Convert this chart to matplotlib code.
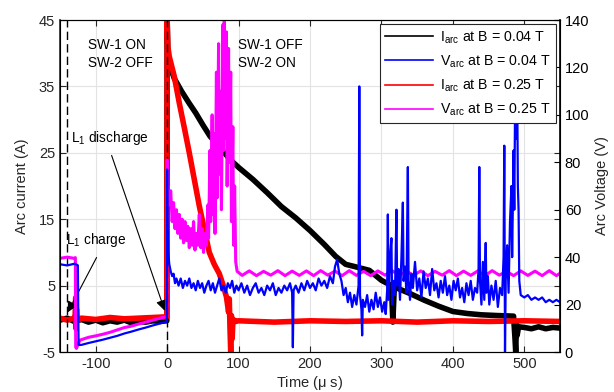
import matplotlib
matplotlib.use("Agg")
import matplotlib.pyplot as plt
from matplotlib.lines import Line2D

plt.rcParams['font.family'] = ['Liberation Sans', 'DejaVu Sans']
plt.rcParams['mathtext.default'] = 'regular'
plt.rcParams['axes.unicode_minus'] = False

# ---- data ----
# I_arc, B = 0.04 T (left axis, A)
t_i004 = [-150, -140, -130, -120, -110, -100, -90, -80, -70, -60, -50, -40, -30, -20, -10, -0.5,
          0, 1, 3, 10, 20, 30, 40, 50, 60, 70, 80, 90, 100, 110, 120, 140, 160, 180, 200, 220,
          236, 250, 265, 283, 300, 314, 316, 318, 340, 360, 380, 400, 420, 440, 460, 485,
          487, 488, 489, 490, 492, 500, 510, 520, 530, 540, 550]
i_004 = [-0.2, 0.1, -0.4, -0.1, -0.5, -0.2, -0.6, -0.3, -0.5, -0.2, -0.6, -0.4, -0.5, -0.3, -0.4, -0.3,
         45, 40, 38.3, 36.2, 34.3, 32.6, 31, 29.2, 27.5, 26.3, 25, 23.8, 22.8, 21.9, 21, 19, 16.9, 15.2, 13.3, 11.2,
         9.4, 8.2, 7.8, 7.3, 5.8, 5.0, -0.5, 4.8, 3.8, 2.8, 1.9, 1.1, 0.8, 0.6, 0.5, 0.4,
         -3, -5, -0.8, -2.5, -1.2, -1.3, -1.5, -1.2, -1.5, -1.3, -1.4]

# I_arc, B = 0.25 T (left axis, A)
t_i025 = [-150, -140, -130, -129, -128, -127.5, -127, -126, -120, -100, -80, -60, -40, -20, -0.5,
          0, 1, 3, 10, 17, 24, 31, 38, 45, 52, 59, 66, 73, 78, 83, 86, 87, 88, 89, 90, 91, 92, 94,
          96, 100, 150, 200, 250, 300, 350, 400, 450, 500, 550]
i_025 = [0.1, -0.2, 0.1, 0.0, 3.2, -1.5, 1.5, -0.3, 0.1, -0.1, 0.2, 0.0, 0.1, 0.2, 0.3,
         45, 41, 39.5, 36.5, 32.5, 28.8, 25, 21, 17, 13.5, 10, 8.2, 6.8, 5.2, 3.3, 1.0, 3.0, -1.5, -5, 0.5, -3, -0.5, -0.2,
         -0.4, -0.3, -0.5, -0.3, -0.4, -0.3, -0.5, -0.3, -0.4, -0.3, -0.4]

# V_arc, B = 0.04 T (right axis, V)
t_v004 = [-150, -140, -130, -126, -125, -124, -120, -110, -100, -90, -80, -70, -60, -50, -40, -30, -20, -10, -0.5,
          0, 0.5, 1.5, 3, 5, 7, 9, 11, 13, 16, 19, 22, 25, 28, 31, 34, 37, 40, 43, 46, 49, 52, 55, 58,
          61, 64, 67, 70, 73, 76, 79, 82, 85, 88, 91, 94, 97, 100, 104, 108, 112, 116, 120, 124, 128,
          132, 136, 140, 144, 148, 152, 156, 160, 164, 168, 172, 175, 176, 177, 180, 184, 188, 192, 196,
          200, 204, 208, 212, 216, 220, 224, 228, 232, 235, 238, 241, 244, 247, 250, 253, 256, 259, 262,
          265, 268, 269, 270, 272, 273, 274, 277, 280, 283, 286, 289, 292, 295, 298, 301, 304, 306, 308,
          309, 310, 312, 314, 315, 317, 319, 321, 322, 324, 326, 328, 330, 331, 333, 335, 337, 338, 340,
          342, 344, 347, 350, 353, 356, 359, 362, 365, 368, 371, 374, 377, 380, 383, 386, 389, 392, 395,
          398, 401, 404, 407, 410, 413, 416, 419, 422, 425, 428, 431, 434, 436, 437, 438, 440, 442, 444,
          446, 447, 449, 451, 454, 457, 460, 463, 466, 469, 471, 472, 473, 474, 476, 478, 480, 482, 483,
          485, 486, 487, 488, 489, 490, 491, 492, 493, 495, 500, 505, 510, 515, 520, 525, 530, 535, 540,
          545, 550]
v_004 = [37, 36.5, 37.2, 36.8, 36.5, 3, 3, 3.8, 4.5, 5.2, 6, 6.8, 7.8, 8.6, 9.5, 10.3, 11.2, 12, 12.8,
         77, 55, 42, 37, 34, 32, 33, 29, 31, 28, 31, 27, 30, 28, 31, 27, 29, 26, 30, 27, 29, 25, 28, 30,
         26, 29, 25, 28, 31, 26, 28, 25, 29, 27, 30, 25, 28, 26, 29, 25, 28, 24, 27, 29, 25,
         27, 24, 28, 26, 29, 24, 27, 25, 28, 26, 29, 25, 2, 26, 28, 25, 29, 26, 30,
         27, 29, 26, 31, 28, 30, 27, 32, 29, 36, 39, 33, 30, 24, 27, 21, 25, 19, 24,
         20, 28, 112, 24, 18, 7, 22, 19, 24, 17, 22, 18, 25, 19, 23, 17, 21, 16, 26,
         58, 22, 40, 48, 20, 30, 24, 60, 28, 35, 22, 40, 63, 30, 36, 25, 78, 30, 22,
         33, 27, 38, 26, 31, 23, 34, 27, 31, 24, 35, 26, 29, 23, 30, 25, 32, 24, 28,
         22, 30, 26, 31, 23, 27, 21, 29, 24, 30, 22, 27, 25, 35, 78, 30, 20, 38, 22,
         46, 25, 32, 20, 28, 22, 30, 19, 27, 24, 40, 87, 0, 30, 45, 25, 55, 70, 40,
         85, 60, 100, 123, 90, 115, 70, 60, 30, 24, 23, 24, 22, 23, 22, 23, 21, 22, 21,
         22, 21]

# V_arc, B = 0.25 T (right axis, V)
t_v025 = [-150, -140, -130, -128.5, -128, -127, -125, -122, -110, -100, -90, -80, -70, -60, -50, -40, -30, -20, -10, -0.5,
          0, 0.5, 1.5, 3, 5, 7, 9, 11, 13, 15, 17, 19, 21, 23, 25, 27, 29, 31, 33, 35, 37, 39, 41, 43,
          45, 47, 49, 51, 53, 55, 57, 58, 60, 61, 63, 64, 66, 67, 69, 70, 72, 73, 75, 76, 78, 79, 80,
          81, 83, 84, 86, 87, 89, 90, 92, 93, 94.5, 96, 98, 105, 115, 125, 135, 145, 155, 165, 175,
          185, 195, 205, 215, 225, 235, 245, 255, 265, 275, 285, 295, 305, 315, 325, 335, 345, 355,
          365, 375, 385, 395, 405, 415, 425, 435, 445, 455, 465, 475, 485, 495, 505, 515, 525, 535,
          545, 550]
v_025 = [39.5, 40, 39.5, 39.8, 2, 1.5, 3, 5, 6.2, 6.8, 7.5, 8.3, 9.3, 10.3, 10.9, 11.8, 12.6, 13.4, 14.3, 15,
         81, 72, 66, 62, 68, 55, 63, 52, 60, 50, 58, 48, 56, 46, 55, 47, 53, 44, 52, 45, 55, 43, 50, 45,
         58, 44, 52, 42, 50, 45, 62, 48, 85, 55, 100, 58, 92, 50, 118, 65, 130, 75, 110, 60, 138, 85, 140,
         90, 135, 70, 128, 80, 118, 55, 95, 45, 70, 38, 34, 32.3, 34.2, 32.2, 34, 32.4, 34.3, 32.2, 34.1,
         32.3, 34.2, 32.2, 34.3, 32.4, 34.1, 32.2, 34.3, 32.3, 34, 32.2, 34.2, 32.4, 34.3, 32.2, 34.1, 32.3, 34.2,
         32.2, 34, 32.4, 34.3, 32.2, 34.1, 32.3, 34.2, 32.2, 34.3, 32.4, 34, 32.2, 34.2, 32.3, 34.1, 32.2, 34.3,
         32.2, 33.2]

labels = ['I$_{arc}$ at B = 0.04 T', 'V$_{arc}$ at B = 0.04 T',
          'I$_{arc}$ at B = 0.25 T', 'V$_{arc}$ at B = 0.25 T']
colors = ['black', '#0000ff', '#ff0000', '#ff00ff']

# ---- figure ----
fig = plt.figure(figsize=(6.14, 3.92), dpi=100)
ax = fig.add_axes([60 / 614, 40 / 392, 500 / 614, 332 / 392])
ax2 = ax.twinx()

dark = '#262626'

ax.plot(t_i004, i_004, color=colors[0], lw=4)
ax.plot(t_i025, i_025, color=colors[2], lw=4)
ax2.plot(t_v025, v_025, color=colors[3], lw=2.2)
ax2.plot(t_v004, v_004, color=colors[1], lw=1.6)

# switching instants
for xv in [-140, 0]:
    ax.axvline(xv, color='black', lw=1.0, ls=(0, (6, 3)), zorder=5)

ax.set_xlim(-150, 550)
ax.set_ylim(-5, 45)
ax2.set_ylim(0, 140)
ax.set_xticks(range(-100, 501, 100))
ax.set_yticks(range(-5, 46, 10))
ax2.set_yticks(range(0, 141, 20))

ax.grid(True, color='#e3e3e3', lw=0.8)
ax.set_axisbelow(True)
ax.tick_params(direction='in', labelsize=10.5, colors=dark, top=True, right=True, length=4)
ax2.tick_params(direction='in', labelsize=10.5, colors='black', length=4)
for s in ['left', 'bottom', 'top']:
    ax.spines[s].set_color(dark)
ax2.spines['right'].set_color('black')
ax2.spines['right'].set_linewidth(1.2)
ax.spines['left'].set_linewidth(1.2)

ax.set_xlabel('Time ($\\mu$ s)', fontsize=10.5, color=dark, labelpad=2)
ax.set_ylabel('Arc current (A)', fontsize=10.5, color=dark, labelpad=7)
ax2.set_ylabel('Arc Voltage (V)', fontsize=10.5, color=dark, labelpad=4)

# annotations
ax.text(-111, 39.9, 'SW-1 ON\nSW-2 OFF', fontsize=9.8, va='center', ha='left', linespacing=1.35)
ax.text(99, 39.9, 'SW-1 OFF\nSW-2 ON', fontsize=9.8, va='center', ha='left', linespacing=1.35)
ax.text(-134, 27.2, 'L$_1$ discharge', fontsize=9.8, va='center', ha='left')
ax.text(-141, 11.9, 'L$_1$ charge', fontsize=9.8, va='center', ha='left')
arrow = dict(arrowstyle='-|>', color='black', lw=0.8, mutation_scale=16)
ax.annotate('', xy=(-2, 0.8), xytext=(-79, 25), arrowprops=arrow, zorder=6)
ax.annotate('', xy=(-141, 0.6), xytext=(-97, 9.6), arrowprops=arrow, zorder=6)

handles = [Line2D([], [], color=c, lw=1.2) for c in colors]
leg = ax2.legend(handles, labels, loc='upper right', fontsize=10.2, handlelength=3.4,
                 labelspacing=0.55, borderaxespad=0.3, handletextpad=0.5,
                 fancybox=False, framealpha=1, edgecolor=dark, borderpad=0.35)
leg.get_frame().set_linewidth(0.8)

fig.savefig('out.png', dpi=100)
